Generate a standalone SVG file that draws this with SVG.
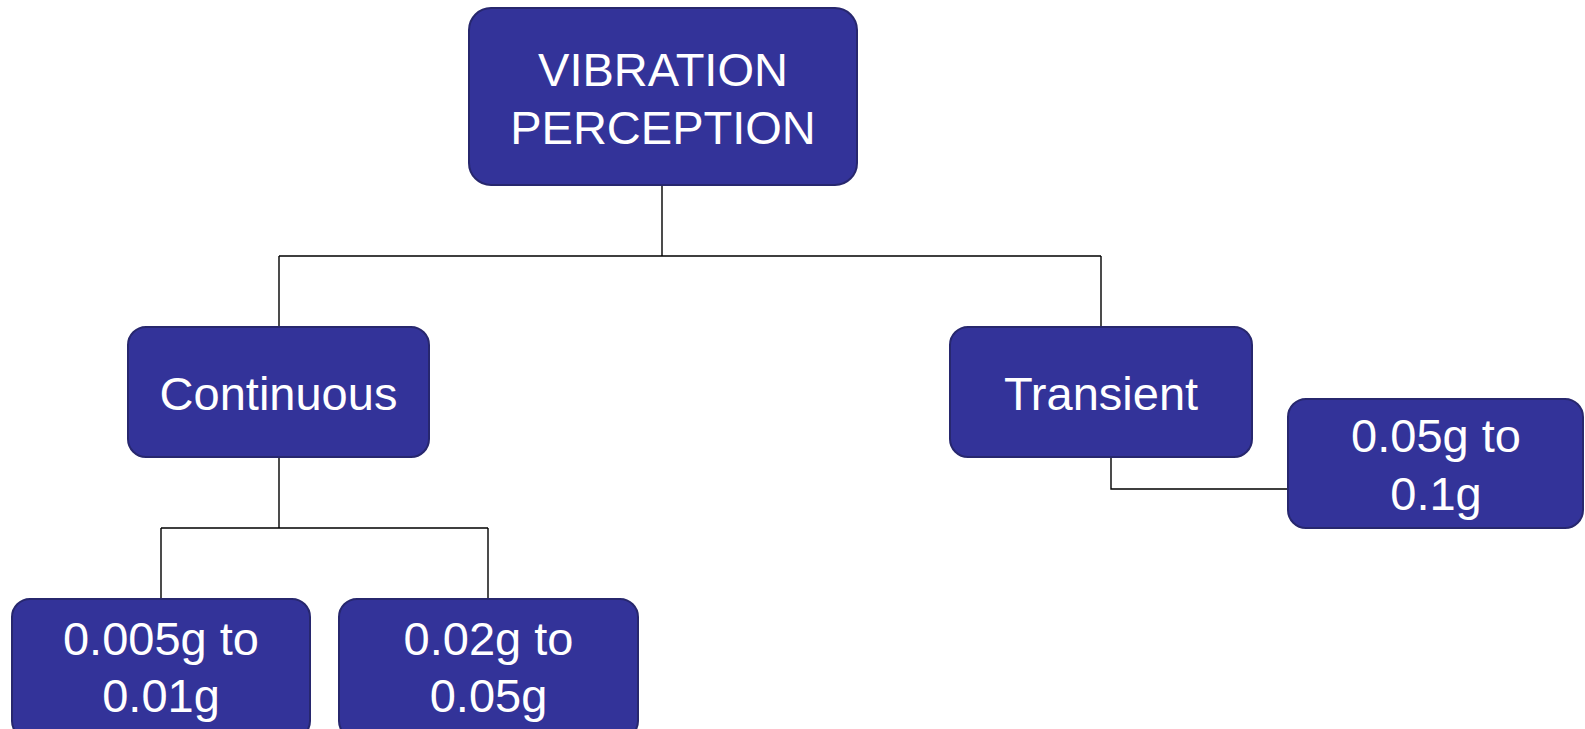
<svg xmlns="http://www.w3.org/2000/svg" width="1585" height="729" viewBox="0 0 1585 729">
<style>
.box{fill:#333399;stroke:#27276e;stroke-width:2}
.t{fill:#ffffff;font-family:"Liberation Sans",Arial,sans-serif;font-size:47px;text-anchor:middle}
.c{fill:none;stroke:#000000;stroke-width:1.4}
</style>
<rect width="1585" height="729" fill="#ffffff"/>
<g id="connectors">
<path class="c" d="M662,185 V256 M279,256 H1101 M279,256 V327 M1101,256 V327"/>
<path class="c" d="M279,457 V528 M161,528 H488 M161,528 V599 M488,528 V599"/>
<path class="c" d="M1111,457 V489 H1288"/>
</g>
<g id="n-vibration">
<rect class="box" x="469" y="8" width="388" height="177" rx="22"/>
<text class="t" x="663" y="86">VIBRATION</text>
<text class="t" x="663" y="144">PERCEPTION</text>
</g>
<g id="n-continuous">
<rect class="box" x="128" y="327" width="301" height="130" rx="18"/>
<text class="t" x="278.5" y="410">Continuous</text>
</g>
<g id="n-transient">
<rect class="box" x="950" y="327" width="302" height="130" rx="18"/>
<text class="t" x="1101" y="410">Transient</text>
</g>
<g id="n-transient-range">
<rect class="box" x="1288" y="399" width="295" height="129" rx="18"/>
<text class="t" x="1436" y="452">0.05g to</text>
<text class="t" x="1436" y="510">0.1g</text>
</g>
<g id="n-cont-range1">
<rect class="box" x="12" y="599" width="298" height="140" rx="18"/>
<text class="t" x="161" y="655">0.005g to</text>
<text class="t" x="161" y="712">0.01g</text>
</g>
<g id="n-cont-range2">
<rect class="box" x="339" y="599" width="299" height="140" rx="18"/>
<text class="t" x="488.5" y="655">0.02g to</text>
<text class="t" x="488.5" y="712">0.05g</text>
</g>
</svg>
